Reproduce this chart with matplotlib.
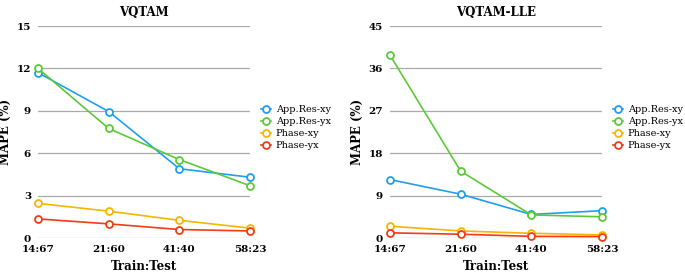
import matplotlib
matplotlib.use("Agg")
import matplotlib.pyplot as plt

splits = ["14:67", "21:60", "41:40", "58:23"]
series_names = ["App.Res-xy", "App.Res-yx", "Phase-xy", "Phase-yx"]
colors = ["#1e9ff0", "#5cc936", "#f7b500", "#f23b18"]

# VQTAM
vqtam_res_xy = [11.7, 8.95, 4.9, 4.3]
vqtam_res_yx = [12.0, 7.75, 5.55, 3.7]
vqtam_ph_xy = [2.45, 1.9, 1.25, 0.7]
vqtam_ph_yx = [1.35, 1.0, 0.6, 0.5]

# VQTAM-LLE
lle_res_xy = [12.4, 9.3, 5.0, 5.8]
lle_res_yx = [38.8, 14.2, 4.9, 4.5]
lle_ph_xy = [2.5, 1.5, 1.0, 0.65]
lle_ph_yx = [1.1, 0.8, 0.35, 0.3]

plt.rcParams["font.family"] = "DejaVu Serif"

fig = plt.figure(figsize=(6.85, 2.76), dpi=100)
ax1 = fig.add_axes([38 / 685, 1 - 238 / 276, 212 / 685, 212 / 276])
ax2 = fig.add_axes([390 / 685, 1 - 238 / 276, 212 / 685, 212 / 276])

panels = [
    (ax1, "VQTAM", [vqtam_res_xy, vqtam_res_yx, vqtam_ph_xy, vqtam_ph_yx], 15, 3),
    (ax2, "VQTAM-LLE", [lle_res_xy, lle_res_yx, lle_ph_xy, lle_ph_yx], 45, 9),
]

x = list(range(len(splits)))
for ax, title, data, ymax, step in panels:
    for vals, name, c in zip(data, series_names, colors):
        ax.plot(x, vals, color=c, lw=1.2, marker="o", ms=5,
                mfc="white", mec=c, mew=1.3, label=name, clip_on=False, zorder=3)
    ax.set_xlim(0, 3)
    ax.set_ylim(0, ymax)
    ax.set_yticks(range(0, ymax + 1, step))
    ax.set_xticks(x)
    ax.set_xticklabels(splits)
    for s in ax.spines.values():
        s.set_visible(False)
    ax.grid(axis="y", color="#aaaaaa", lw=0.9)
    ax.set_axisbelow(True)
    ax.tick_params(length=0, labelsize=7.5, pad=5)
    for lab in ax.get_xticklabels() + ax.get_yticklabels():
        lab.set_fontweight("bold")
    ax.set_title(title, fontsize=8.5, fontweight="bold", pad=7)
    ax.set_xlabel("Train:Test", fontsize=8.5, fontweight="bold", labelpad=4)
    ax.set_ylabel("MAPE (%)", fontsize=8.5, fontweight="bold", labelpad=3)
    ax.legend(loc="center left", bbox_to_anchor=(1.03, 0.52), frameon=False,
              fontsize=7, handlelength=1.0, handletextpad=0.5,
              labelspacing=0.3, borderpad=0)

fig.savefig("out.png", dpi=100)
